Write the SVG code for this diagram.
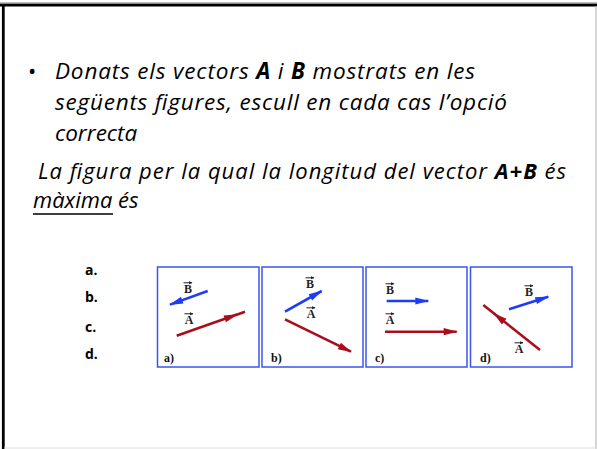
<svg xmlns="http://www.w3.org/2000/svg" width="597" height="449" viewBox="0 0 597 449">
<style>
.main{font-family:"Open Sans","Liberation Sans",sans-serif;font-style:italic;font-size:22.5px;fill:#000}
.sm{font-size:22px}
.b{font-weight:bold}
.opt{font-family:"Open Sans","Liberation Sans",sans-serif;font-weight:bold;font-size:14px;fill:#000}
.vl{font-family:"Liberation Serif",serif;font-weight:bold;font-size:12px;fill:#222;text-anchor:middle}
.pl{font-family:"Liberation Serif",serif;font-weight:bold;font-size:12px;fill:#111}
.panel{fill:#fff;stroke:#3a55ee;stroke-width:1.5}
.red{stroke:#a80f1c;stroke-width:2.6;fill:none}
.blue{stroke:#1f3cf5;stroke-width:2.6;fill:none}
.bar{stroke:#222;stroke-width:1;fill:none}
</style>
<defs>
<marker id="hr" viewBox="-14 -5 15 10" refX="0" refY="0" markerWidth="15" markerHeight="10" markerUnits="userSpaceOnUse" orient="auto"><path d="M1,0 L-13,-3.6 L-13,3.6 Z" fill="#a80f1c"/></marker>
<marker id="hb" viewBox="-14 -5 15 10" refX="0" refY="0" markerWidth="15" markerHeight="10" markerUnits="userSpaceOnUse" orient="auto"><path d="M1,0 L-13,-3.6 L-13,3.6 Z" fill="#1f3cf5"/></marker>
<marker id="hs" viewBox="-4 -2 5 4" refX="0" refY="0" markerWidth="5" markerHeight="4" markerUnits="userSpaceOnUse" orient="auto"><path d="M0.5,0 L-3,-1.5 L-3,1.5 Z" fill="#222"/></marker>
</defs>
<rect width="597" height="449" fill="#fff"/>
<g id="frame">
<line x1="0" y1="3" x2="597" y2="3" stroke="#777" stroke-width="1"/>
<line x1="0" y1="5.2" x2="597" y2="5.2" stroke="#000" stroke-width="2.8"/>
<line x1="3.3" y1="4" x2="3.3" y2="449" stroke="#000" stroke-width="2.8"/>
<line x1="596" y1="6" x2="596" y2="449" stroke="#bbb" stroke-width="1.2"/>
<line x1="4" y1="448" x2="597" y2="448" stroke="#ddd" stroke-width="1"/>
</g>
<g id="question">
<text class="main" x="28" y="79" style="font-style:normal;font-size:22px">•</text>
<text class="main" x="55" y="79" textLength="420" lengthAdjust="spacing">Donats els vectors <tspan class="b">A</tspan> i <tspan class="b">B</tspan> mostrats en les</text>
<text class="main" x="55" y="110" textLength="452" lengthAdjust="spacing">següents figures, escull en cada cas l’opció</text>
<text class="main" x="55" y="141">correcta</text>
<text class="main sm" x="38" y="179" textLength="528" lengthAdjust="spacing">La figura per la qual la longitud del vector <tspan class="b">A+B</tspan> és</text>
<text class="main sm" x="33" y="208">màxima és</text>
<line x1="33" y1="214" x2="113" y2="214" stroke="#000" stroke-width="1.6"/>
</g>
<g id="options">
<text class="opt" x="85" y="275">a.</text>
<text class="opt" x="85" y="302">b.</text>
<text class="opt" x="85" y="332">c.</text>
<text class="opt" x="85" y="359">d.</text>
</g>
<g id="panel-a">
<rect class="panel" x="157.5" y="267" width="101.5" height="100"/>
<path class="blue" d="M207.7,291 L170,304.6" marker-end="url(#hb)"/>
<path class="red" d="M176.7,335.7 L237,314.6" marker-end="url(#hr)"/>
<path class="red" d="M236,315 L245,311.7"/>
<text class="vl" x="188" y="293">B</text>
<path class="bar" d="M183.5,282.8 L192,282.8" marker-end="url(#hs)"/>
<text class="vl" x="189" y="324">A</text>
<path class="bar" d="M184.5,313.8 L193,313.8" marker-end="url(#hs)"/>
<text class="pl" x="164" y="362">a)</text>
</g>
<g id="panel-b">
<rect class="panel" x="262" y="267" width="101" height="100"/>
<path class="blue" d="M285,311.7 L321.7,291" marker-end="url(#hb)"/>
<path class="red" d="M285,319.3 L351,351.7" marker-end="url(#hr)"/>
<text class="vl" x="310" y="288">B</text>
<path class="bar" d="M305.5,277.8 L314,277.8" marker-end="url(#hs)"/>
<text class="vl" x="311" y="318">A</text>
<path class="bar" d="M306.5,307.8 L315,307.8" marker-end="url(#hs)"/>
<text class="pl" x="271" y="362">b)</text>
</g>
<g id="panel-c">
<rect class="panel" x="366" y="267" width="101" height="100"/>
<path class="blue" d="M386.7,301 L428.3,301" marker-end="url(#hb)"/>
<path class="red" d="M385,331.7 L456.7,331.7" marker-end="url(#hr)"/>
<text class="vl" x="390" y="294">B</text>
<path class="bar" d="M385.5,283.8 L394,283.8" marker-end="url(#hs)"/>
<text class="vl" x="390" y="324">A</text>
<path class="bar" d="M385.5,313.8 L394,313.8" marker-end="url(#hs)"/>
<text class="pl" x="375" y="362">c)</text>
</g>
<g id="panel-d">
<rect class="panel" x="470.5" y="267" width="101.5" height="100"/>
<path class="blue" d="M509,309.3 L548.3,296.7" marker-end="url(#hb)"/>
<path class="red" d="M540,350 L494,313.5" marker-end="url(#hr)"/>
<path class="red" d="M495,314.3 L483.3,305"/>
<text class="vl" x="529" y="296">B</text>
<path class="bar" d="M524.5,285.8 L533,285.8" marker-end="url(#hs)"/>
<text class="vl" x="519" y="353">A</text>
<path class="bar" d="M514.5,342.8 L523,342.8" marker-end="url(#hs)"/>
<text class="pl" x="480" y="362">d)</text>
</g>
</svg>
